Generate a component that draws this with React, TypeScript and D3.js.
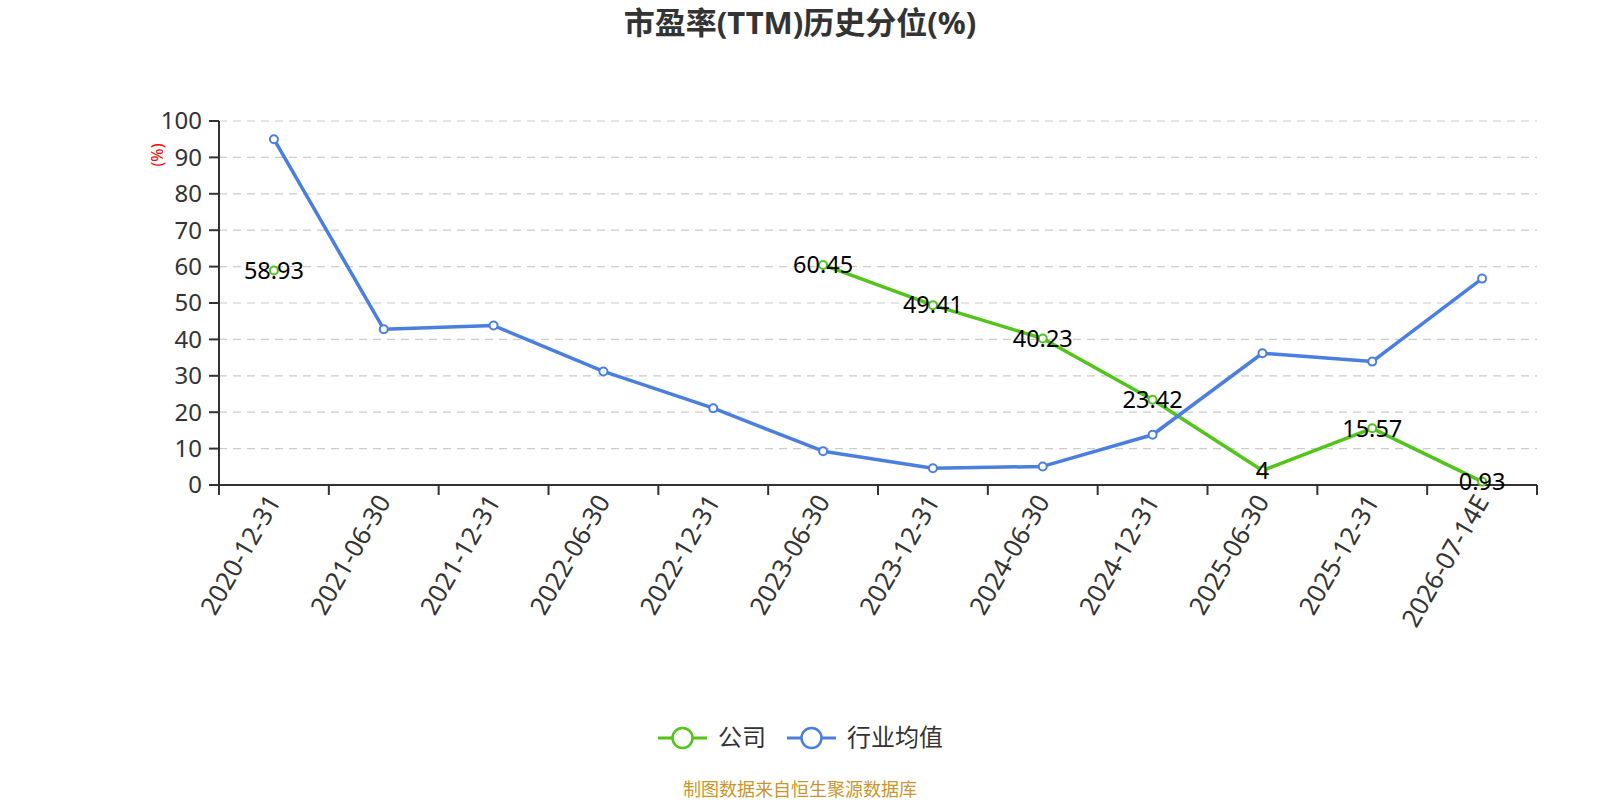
import React from "react";
import * as d3 from "d3";

const categories = [
  "2020-12-31",
  "2021-06-30",
  "2021-12-31",
  "2022-06-30",
  "2022-12-31",
  "2023-06-30",
  "2023-12-31",
  "2024-06-30",
  "2024-12-31",
  "2025-06-30",
  "2025-12-31",
  "2026-07-14E",
];

// null = no value for that date
const companyValues: (number | null)[] = [58.93, null, null, null, null, 60.45, 49.41, 40.23, 23.42, 4, 15.57, 0.93];
const industryValues: number[] = [95.0, 42.8, 43.8, 31.2, 21.1, 9.3, 4.6, 5.1, 13.8, 36.2, 33.9, 56.7];

const yTicks = [0, 10, 20, 30, 40, 50, 60, 70, 80, 90, 100];

const WIDTH = 1600;
const HEIGHT = 800;
const margin = { top: 121, right: 63, bottom: 315, left: 219 };
const FONT = "'Noto Sans', 'Noto Sans CJK SC', sans-serif";
const GREEN = "#52c41a";
const BLUE = "#4a7fe0";

const App: React.FC = () => {
  const innerW = WIDTH - margin.left - margin.right;
  const innerH = HEIGHT - margin.top - margin.bottom;

  const x = d3.scaleBand<string>().domain(categories).range([0, innerW]);
  const y = d3.scaleLinear().domain([0, 100]).range([innerH, 0]);
  const cx = (c: string) => (x(c) ?? 0) + x.bandwidth() / 2;

  const line = d3
    .line<number | null>()
    .defined((d) => d !== null)
    .x((_, i) => cx(categories[i]))
    .y((d) => y(d as number));

  const series = [
    { name: "公司", values: companyValues, color: GREEN, labels: true },
    { name: "行业均值", values: industryValues as (number | null)[], color: BLUE, labels: false },
  ];

  const legendItems = [
    { name: "公司", color: GREEN, x: 658 },
    { name: "行业均值", color: BLUE, x: 787 },
  ];

  return (
    <svg
      width={WIDTH}
      height={HEIGHT}
      style={{ position: "absolute", left: 0, top: 0, background: "#fff" }}
      fontFamily={FONT}
    >
      <text x={800} y={34} textAnchor="middle" fontSize={31} fontWeight="bold" fill="#333">
        市盈率(TTM)历史分位(%)
      </text>

      <g transform={`translate(${margin.left},${margin.top})`}>
        {/* grid */}
        {yTicks
          .filter((t) => t > 0)
          .map((t) => (
            <line key={t} x1={0} x2={innerW} y1={y(t)} y2={y(t)} stroke="#ccc" strokeWidth={1.2} strokeDasharray="8,6" />
          ))}

        {/* y axis */}
        <line x1={0} x2={0} y1={0} y2={innerH} stroke="#333" strokeWidth={2} />
        {yTicks.map((t) => (
          <g key={t} transform={`translate(0,${y(t)})`}>
            <line x1={-10} x2={0} stroke="#333" strokeWidth={2} />
            <text x={-17} dy="0.35em" textAnchor="end" fontSize={24} fill="#333">
              {t}
            </text>
          </g>
        ))}
        <text
          transform={`translate(${157 - margin.left},${155 - margin.top}) rotate(-90)`}
          textAnchor="middle"
          dy="0.35em"
          fontSize={16}
          fill="red"
        >
          (%)
        </text>

        {/* x axis */}
        <line x1={0} x2={innerW} y1={innerH} y2={innerH} stroke="#333" strokeWidth={2} />
        {d3.range(categories.length + 1).map((i) => {
          const px = i < categories.length ? x(categories[i]) ?? 0 : innerW;
          return <line key={i} x1={px} x2={px} y1={innerH} y2={innerH + 10} stroke="#333" strokeWidth={2} />;
        })}
        {categories.map((c) => (
          <text
            key={c}
            transform={`translate(${cx(c)},${innerH + 12}) rotate(-60)`}
            textAnchor="end"
            dy="0.35em"
            fontSize={25.5}
            fill="#333"
          >
            {c}
          </text>
        ))}

        {/* lines */}
        {series.map((s) => (
          <g key={s.name}>
            <path d={line(s.values) ?? ""} fill="none" stroke={s.color} strokeWidth={3.5} strokeLinejoin="round" />
            {s.values.map((v, i) =>
              v === null ? null : (
                <circle key={i} cx={cx(categories[i])} cy={y(v)} r={4} fill="#fff" stroke={s.color} strokeWidth={2} />
              )
            )}
          </g>
        ))}

        {/* data labels */}
        {series
          .filter((s) => s.labels)
          .map((s) =>
            s.values.map((v, i) =>
              v === null ? null : (
                <text
                  key={`${s.name}-${i}`}
                  x={cx(categories[i])}
                  y={y(v)}
                  dy="0.35em"
                  textAnchor="middle"
                  fontSize={23.5}
                  fill="#000"
                >
                  {v}
                </text>
              )
            )
          )}
      </g>

      {/* legend */}
      {legendItems.map((l) => (
        <g key={l.name} transform={`translate(${l.x},738)`}>
          <line x1={0} x2={49} y1={0} y2={0} stroke={l.color} strokeWidth={3} />
          <circle cx={24.5} cy={0} r={10} fill="#fff" stroke={l.color} strokeWidth={2.5} />
          <text x={60} dy="0.35em" fontSize={24} fill="#333">
            {l.name}
          </text>
        </g>
      ))}

      <text x={800} y={796} textAnchor="middle" fontSize={18} fill="#c8962e">
        制图数据来自恒生聚源数据库
      </text>
    </svg>
  );
};

export default App;
